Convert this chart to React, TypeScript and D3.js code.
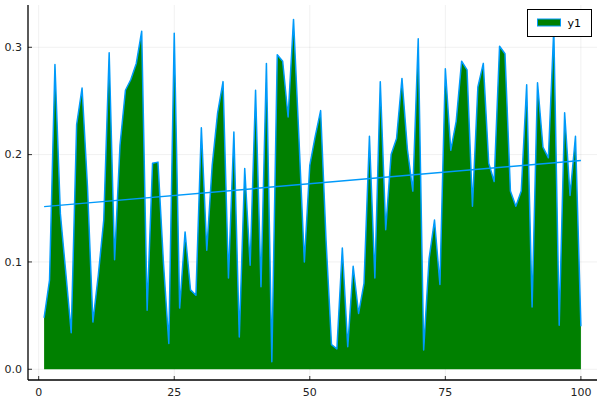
import * as d3 from "d3";

// y1 values for x = 1..100
const xs = d3.range(1, 101);
const ys = [
  0.048, 0.083, 0.284, 0.145, 0.09, 0.034, 0.228, 0.262, 0.17, 0.044,
  0.088, 0.139, 0.295, 0.102, 0.209, 0.26, 0.27, 0.285, 0.315, 0.055,
  0.192, 0.193, 0.1, 0.024, 0.313, 0.057, 0.128, 0.074, 0.069, 0.225,
  0.111, 0.19, 0.239, 0.268, 0.085, 0.221, 0.03, 0.187, 0.097, 0.26,
  0.077, 0.285, 0.007, 0.293, 0.287, 0.235, 0.326, 0.215, 0.1, 0.19,
  0.217, 0.241, 0.12, 0.023, 0.019, 0.113, 0.021, 0.096, 0.052, 0.08,
  0.217, 0.085, 0.268, 0.13, 0.2, 0.215, 0.271, 0.205, 0.166, 0.308,
  0.018, 0.103, 0.139, 0.079, 0.28, 0.204, 0.231, 0.287, 0.279, 0.152,
  0.263, 0.285, 0.192, 0.175, 0.301, 0.294, 0.166, 0.152, 0.166, 0.265,
  0.058, 0.267, 0.207, 0.197, 0.317, 0.041, 0.239, 0.162, 0.217, 0.04,
];
const xTicks = [0, 25, 50, 75, 100];
const yTicks = [0, 0.1, 0.2, 0.3];
const seriesLabel = "y1";

const W = 600;
const H = 400;
const plot = { left: 28, right: 597, top: 5, bottom: 380 };
const lineColor = "#009AFA";
const fillColor = "#008000";
const font = "DejaVu Sans, sans-serif";

export default function App() {
  const x = d3.scaleLinear().domain([-1.97, 102.97]).range([plot.left, plot.right]);
  const y = d3.scaleLinear().domain([-0.01, 0.3394]).range([plot.bottom, plot.top]);

  const pts = xs.map((xv, i) => [xv, ys[i]] as [number, number]);

  const area = d3
    .area<[number, number]>()
    .x((d) => x(d[0]))
    .y0(() => y(0))
    .y1((d) => y(d[1]));
  const line = d3
    .line<[number, number]>()
    .x((d) => x(d[0]))
    .y((d) => y(d[1]));

  // least squares fit, like smooth = true
  const mx = d3.mean(xs) ?? 0;
  const my = d3.mean(ys) ?? 0;
  const sxy = d3.sum(xs, (xv, i) => (xv - mx) * (ys[i] - my));
  const sxx = d3.sum(xs, (xv) => (xv - mx) ** 2);
  const slope = sxy / sxx;
  const fit: [number, number][] = [
    [1, my + slope * (1 - mx)],
    [100, my + slope * (100 - mx)],
  ];

  return (
    <svg
      width={W}
      height={H}
      style={{ position: "absolute", left: 0, top: 0, background: "#fff" }}
      fontFamily={font}
    >
      <g>
        {xTicks.map((t) => (
          <line
            key={`gx-${t}`}
            x1={x(t)}
            x2={x(t)}
            y1={plot.top}
            y2={plot.bottom}
            stroke="#000"
            strokeOpacity={0.1}
            strokeWidth={0.6}
          />
        ))}
        {yTicks.map((t) => (
          <line
            key={`gy-${t}`}
            x1={plot.left}
            x2={plot.right}
            y1={y(t)}
            y2={y(t)}
            stroke="#000"
            strokeOpacity={0.1}
            strokeWidth={0.6}
          />
        ))}
      </g>
      <path d={area(pts) ?? ""} fill={fillColor} />
      <path d={line(pts) ?? ""} fill="none" stroke={lineColor} strokeWidth={1.5} strokeLinejoin="round" />
      <path d={line(fit) ?? ""} fill="none" stroke={lineColor} strokeWidth={1.5} />

      <line x1={plot.left} x2={plot.left} y1={plot.top} y2={plot.bottom} stroke="#000" strokeWidth={1.3} />
      <line x1={plot.left} x2={plot.right} y1={plot.bottom} y2={plot.bottom} stroke="#000" strokeWidth={1.3} />
      {xTicks.map((t) => (
        <g key={`tx-${t}`}>
          <line x1={x(t)} x2={x(t)} y1={plot.bottom} y2={plot.bottom - 4} stroke="#000" strokeWidth={0.8} />
          <text x={x(t)} y={plot.bottom + 16} textAnchor="middle" fontSize={11} fill="#222">
            {t}
          </text>
        </g>
      ))}
      {yTicks.map((t) => (
        <g key={`ty-${t}`}>
          <line x1={plot.left} x2={plot.left + 4} y1={y(t)} y2={y(t)} stroke="#000" strokeWidth={0.8} />
          <text x={plot.left - 6} y={y(t)} dy="0.35em" textAnchor="end" fontSize={11} fill="#222">
            {t.toFixed(1)}
          </text>
        </g>
      ))}

      <g transform="translate(527.5,9.5)">
        <rect width={64} height={27} fill="#fff" stroke="#000" strokeWidth={1} />
        <rect x={10} y={9.5} width={23} height={7} fill={fillColor} stroke={lineColor} strokeWidth={1} />
        <text x={40} y={17.5} fontSize={11} fill="#000">
          {seriesLabel}
        </text>
      </g>
    </svg>
  );
}
